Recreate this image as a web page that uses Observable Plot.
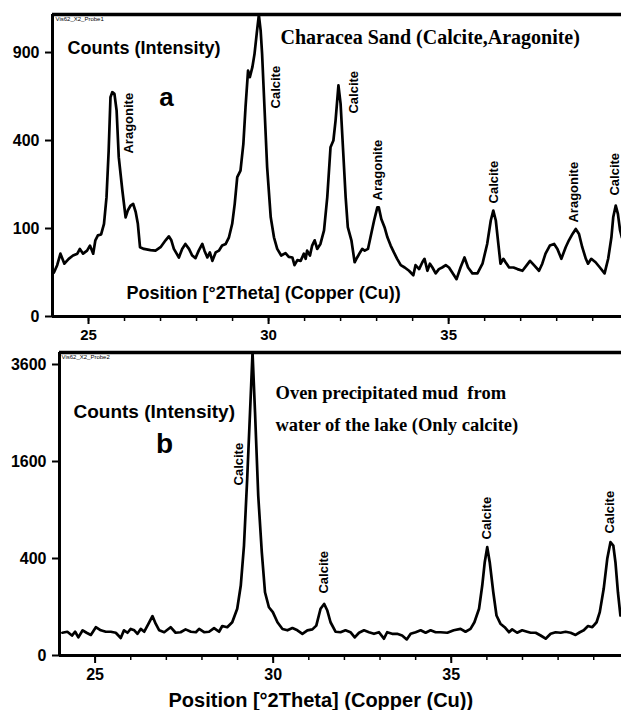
<!DOCTYPE html>
<html><head><meta charset="utf-8">
<script src="https://cdn.jsdelivr.net/npm/d3@7"></script>
<script src="https://cdn.jsdelivr.net/npm/@observablehq/plot@0.6"></script>
<style>
html,body{margin:0;padding:0;background:#fff;}
#chart{width:621px;height:710px;overflow:hidden;}
#chart svg{display:block;}
</style></head><body><div id="chart"></div>
<script>
// ---- Panel a: Characea Sand ----
const thetaA = [24.04,24.13,24.22,24.33,24.45,24.57,24.69,24.76,24.85,24.96,25.04,25.13,25.19,25.26,25.35,25.43,25.50,25.56,25.61,25.66,25.72,25.78,25.84,25.94,26.03,26.09,26.17,26.24,26.31,26.37,26.43,26.54,26.72,26.86,27.00,27.14,27.23,27.30,27.37,27.51,27.60,27.69,27.79,27.88,27.97,28.06,28.16,28.22,28.30,28.37,28.44,28.53,28.62,28.71,28.81,28.90,28.99,29.06,29.13,29.22,29.30,29.36,29.43,29.48,29.55,29.61,29.67,29.73,29.78,29.82,29.89,29.96,30.06,30.15,30.24,30.35,30.47,30.56,30.66,30.72,30.80,30.89,30.98,31.03,31.07,31.15,31.21,31.28,31.35,31.44,31.54,31.63,31.72,31.80,31.86,31.94,32.00,32.07,32.14,32.20,32.30,32.39,32.46,32.54,32.60,32.67,32.76,32.83,32.93,33.02,33.06,33.13,33.22,33.30,33.39,33.48,33.57,33.67,33.78,33.90,34.02,34.08,34.18,34.27,34.33,34.41,34.48,34.55,34.64,34.73,34.82,34.92,35.01,35.10,35.22,35.33,35.44,35.54,35.66,35.80,35.94,36.07,36.17,36.24,36.31,36.38,36.44,36.52,36.58,36.68,36.80,36.91,37.05,37.17,37.26,37.37,37.51,37.60,37.69,37.81,37.93,38.02,38.13,38.25,38.34,38.44,38.53,38.62,38.71,38.81,38.87,38.96,39.08,39.20,39.33,39.43,39.52,39.57,39.64,39.70,39.76,39.81];
const countsA = [25,34,51,36,43,48,51,59,51,56,65,51,75,85,87,111,184,356,621,650,640,548,328,205,127,145,159,164,141,111,62,59,57,56,62,75,83,75,59,45,59,68,59,48,44,56,68,56,45,53,40,53,56,65,68,81,111,164,251,275,385,566,781,740,803,891,1032,1175,1056,891,548,288,127,81,59,48,52,46,45,34,41,40,51,43,56,48,65,75,59,68,96,184,370,400,496,690,584,356,184,103,75,38,45,53,59,56,59,81,119,154,154,123,103,81,65,53,43,34,31,27,22,34,29,38,43,27,36,31,24,29,31,34,31,25,18,31,45,31,24,24,36,68,119,145,119,68,36,43,38,31,31,29,27,34,40,34,27,36,51,65,68,59,43,62,75,88,99,88,62,43,36,43,38,31,24,43,81,127,159,136,96,81];
const ticksA = [0, 100, 400, 900];
const labelNamesA = ["Aragonite","Calcite","Calcite","Aragonite","Calcite","Aragonite","Calcite"];
const labelThetaA = [26.11, 30.19, 32.36, 33.03, 36.25, 38.47, 39.61];
const labelCountsA = [343, 559, 532, 174, 165, 114, 189];

// ---- Panel b: Oven precipitated mud ----
const thetaB = [24.08,24.22,24.35,24.44,24.53,24.65,24.76,24.88,25.02,25.16,25.30,25.44,25.58,25.72,25.81,25.91,26.00,26.10,26.19,26.28,26.38,26.50,26.61,26.70,26.80,26.94,27.12,27.26,27.40,27.54,27.69,27.83,27.92,28.06,28.20,28.34,28.48,28.57,28.71,28.85,28.99,29.09,29.18,29.27,29.35,29.42,29.49,29.58,29.68,29.77,29.88,29.99,30.12,30.26,30.40,30.54,30.68,30.82,30.96,31.10,31.21,31.33,31.43,31.52,31.61,31.75,31.89,32.03,32.17,32.29,32.41,32.55,32.69,32.83,32.97,33.11,33.20,33.34,33.48,33.62,33.75,33.86,34.00,34.14,34.28,34.42,34.56,34.70,34.89,35.07,35.26,35.40,35.54,35.65,35.78,35.87,35.94,36.01,36.08,36.18,36.27,36.38,36.50,36.62,36.71,36.85,36.99,37.13,37.23,37.37,37.51,37.65,37.79,37.93,38.07,38.21,38.35,38.49,38.61,38.72,38.84,38.96,39.08,39.17,39.28,39.38,39.47,39.55,39.61,39.68,39.75];
const countsB = [22,24,17,24,14,27,22,18,34,27,24,24,22,13,27,22,30,27,20,30,24,43,66,43,27,23,34,22,23,29,24,23,30,23,24,32,24,37,34,47,93,208,514,1327,2517,3900,2517,1088,454,170,99,80,47,30,27,32,27,20,27,29,38,93,113,86,47,24,23,27,23,14,22,27,23,20,23,12,23,20,20,17,11,20,23,27,22,27,23,23,22,27,30,24,30,47,93,208,370,499,370,170,68,43,34,23,29,22,27,24,22,22,17,12,20,23,22,24,22,18,23,27,37,34,47,80,189,397,546,514,370,170,68];
const ticksB = [0, 400, 1600, 3600];
const labelNamesB = ["Calcite","Calcite","Calcite","Calcite"];
const labelThetaB = [29.03, 31.42, 35.99, 39.44];
const labelCountsB = [1229, 163, 572, 633];

const minorTicks = d3.range(25, 40);
const majorTicks = [25, 30, 35];

function makePanel(cfg) {
  const data = cfg.theta.map((t, i) => ({t, v: cfg.counts[i]}));
  const labels = cfg.labelNames.map((n, i) => ({n, t: cfg.labelTheta[i], v: cfg.labelCounts[i]}));
  const sans = {fontFamily: "Liberation Sans, Arial, sans-serif", fontWeight: "bold", fill: "#000"};
  const serif = {fontFamily: "Liberation Serif, Times New Roman, serif", fontWeight: "bold", fill: "#000"};
  const marks = [
    Plot.line(data, {x: "t", y: "v", stroke: "#000", strokeWidth: 2.7, strokeLinejoin: "round", clip: true}),
    Plot.ruleY([cfg.ymax], {stroke: "#000", strokeWidth: 3.5}),
    Plot.ruleY([0], {stroke: "#000", strokeWidth: 3}),
    Plot.ruleX([24], {stroke: "#000", strokeWidth: 3}),
    Plot.axisX(minorTicks, {tickSize: 5, strokeWidth: 1.5, tickFormat: () => "", label: null}),
    Plot.axisX(majorTicks, {tickSize: 8, tickPadding: cfg.xPad, strokeWidth: 2, fontSize: cfg.xFont, fontWeight: "bold", fontFamily: "Liberation Sans, Arial, sans-serif", label: null}),
    Plot.axisY(cfg.yticks, {tickSize: 7, tickPadding: 6, strokeWidth: 2, fontSize: 16, fontWeight: "bold", fontFamily: "Liberation Sans, Arial, sans-serif", tickFormat: d3.format("d"), label: null}),
    Plot.text(labels, {x: "t", y: "v", text: "n", rotate: -90, textAnchor: "start", lineAnchor: "middle", fontSize: 13, ...sans}),
  ];
  for (const a of cfg.annotations) {
    marks.push(Plot.text([a.text], {text: d => d, frameAnchor: a.anchor || "top-left", dx: a.dx, dy: a.dy,
      textAnchor: a.textAnchor || "start", lineAnchor: "bottom", fontSize: a.size, ...(a.serif ? serif : sans),
      fontWeight: a.weight || "bold"}));
  }
  return Plot.plot({
    width: 621, height: cfg.height,
    marginLeft: cfg.marginLeft, marginRight: 0, marginTop: cfg.marginTop, marginBottom: cfg.marginBottom,
    x: {domain: [24, cfg.xmax], label: null},
    y: {type: "sqrt", domain: [0, cfg.ymax], label: null},
    style: {background: "#fff", color: "#000", fontFamily: "Liberation Sans, Arial, sans-serif", overflow: "visible"},
    marks
  });
}

const panelA = makePanel({
  theta: thetaA, counts: countsA, yticks: ticksA,
  labelNames: labelNamesA, labelTheta: labelThetaA, labelCounts: labelCountsA,
  height: 345, marginLeft: 52, marginTop: 14, marginBottom: 29, xmax: 39.8, ymax: 1178, xFont: 15, xPad: 5,
  annotations: [
    {text: "Vis62_X2_Probe1", dx: 3, dy: 6, size: 6, weight: "normal"},
    {text: "Counts (Intensity)", dx: 15, dy: 39, size: 18},
    {text: "a", dx: 114, dy: 91, size: 26, textAnchor: "middle"},
    {text: "Characea Sand (Calcite,Aragonite)", dx: 228, dy: 29, size: 20, serif: true},
    {text: "Position [°2Theta] (Copper (Cu))", dx: 74, dy: 284, size: 18}
  ]
});

const panelB = makePanel({
  theta: thetaB, counts: countsB, yticks: ticksB,
  labelNames: labelNamesB, labelTheta: labelThetaB, labelCounts: labelCountsB,
  height: 365, marginLeft: 59, marginTop: 7, marginBottom: 55, xmax: 39.78, ymax: 3903, xFont: 16, xPad: 5,
  annotations: [
    {text: "Vis62_X2_Probe2", dx: 2, dy: 6, size: 6, weight: "normal"},
    {text: "Counts (Intensity)", dx: 14, dy: 65, size: 19},
    {text: "b", dx: 105, dy: 100, size: 28, textAnchor: "middle"},
    {text: "Oven precipitated mud  from", dx: 216, dy: 46, size: 18.5, serif: true},
    {text: "water of the lake (Only calcite)", dx: 216, dy: 78, size: 18.5, serif: true},
    {text: "Position [°2Theta] (Copper (Cu))", anchor: "bottom-left", dx: 109, dy: 51, size: 20}
  ]
});

const chart = document.getElementById("chart");
chart.appendChild(panelA);
chart.appendChild(panelB);
</script></body></html>
